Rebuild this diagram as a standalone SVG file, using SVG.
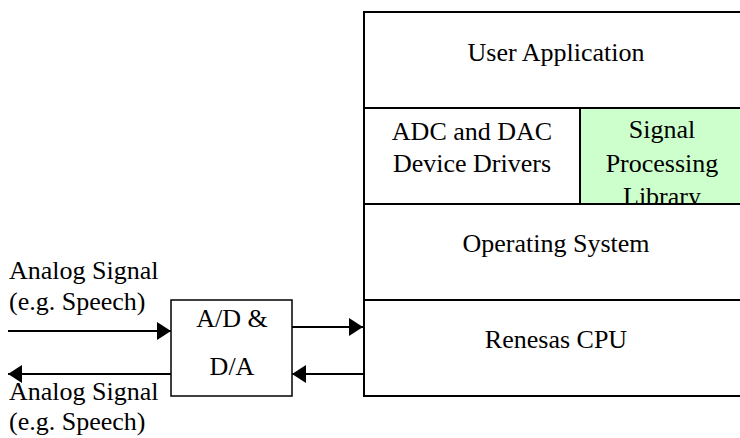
<svg xmlns="http://www.w3.org/2000/svg" width="740" height="438" viewBox="0 0 740 438">
<style>
text{font-family:"Liberation Serif","Times New Roman",serif;font-size:26px;fill:#000}
.c{text-anchor:middle}
.ln{stroke:#000;stroke-width:2;fill:none}
.box{stroke:#000;stroke-width:1.5;fill:#fff}
</style>
<defs>
<marker id="ah" markerUnits="userSpaceOnUse" markerWidth="14" markerHeight="18" refX="14" refY="9" orient="auto">
<path d="M0,0 L14,9 L0,18 z" fill="#000"/>
</marker>
<clipPath id="gclip"><rect x="580" y="108" width="170" height="96"/></clipPath>
</defs>
<rect x="0" y="0" width="740" height="438" fill="#fff"/>
<g id="stack">
<g id="user-app">
<rect x="364" y="12" width="390" height="96" class="ln" fill="#fff"/>
<text class="c" x="556" y="61">User Application</text>
</g>
<g id="drivers">
<rect x="364" y="108" width="216" height="96" class="ln"/>
<text class="c" x="472" y="140">ADC and DAC</text>
<text class="c" x="472" y="172">Device Drivers</text>
</g>
<g id="spl">
<rect x="580" y="108" width="174" height="96" fill="#ccffcc" stroke="#000" stroke-width="2"/>
<g clip-path="url(#gclip)">
<text class="c" x="662" y="138">Signal</text>
<text class="c" x="662" y="172">Processing</text>
<text class="c" x="662" y="205">Library</text>
</g>
<line x1="580" y1="204" x2="754" y2="204" class="ln"/>
</g>
<g id="os">
<rect x="364" y="204" width="390" height="96" class="ln"/>
<text class="c" x="556" y="252">Operating System</text>
</g>
<g id="cpu">
<rect x="364" y="300" width="390" height="96" class="ln"/>
<text class="c" x="556" y="348">Renesas CPU</text>
</g>
</g>
<g id="adda">
<rect x="171" y="300" width="121" height="96" class="box"/>
<text class="c" x="232" y="327">A/D &amp;</text>
<text class="c" x="232" y="375">D/A</text>
</g>
<g id="labels">
<text x="9" y="279">Analog Signal</text>
<text x="9" y="310">(e.g. Speech)</text>
<text x="9" y="400">Analog Signal</text>
<text x="9" y="430">(e.g. Speech)</text>
</g>
<g id="connectors">
<line x1="8" y1="331" x2="171" y2="331" class="ln" marker-end="url(#ah)"/>
<line x1="292" y1="327" x2="363" y2="327" class="ln" marker-end="url(#ah)"/>
<line x1="363" y1="374" x2="292" y2="374" class="ln" marker-end="url(#ah)"/>
<line x1="171" y1="374" x2="8" y2="374" class="ln" marker-end="url(#ah)"/>
</g>
</svg>
